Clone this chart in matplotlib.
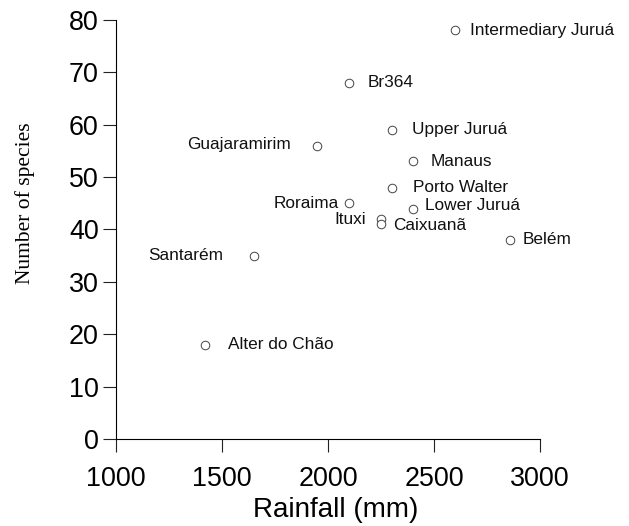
import matplotlib
matplotlib.use("Agg")
import matplotlib.pyplot as plt

# data
sites = ['Intermediary Juruá', 'Br364', 'Upper Juruá', 'Guajaramirim', 'Manaus',
         'Porto Walter', 'Roraima', 'Lower Juruá', 'Ituxi', 'Caixuanã',
         'Belém', 'Santarém', 'Alter do Chão']
rainfall = [2600, 2100, 2300, 1950, 2400, 2300, 2100, 2400, 2250, 2250, 2860, 1650, 1420]
species = [78, 68, 59, 56, 53, 48, 45, 44, 42, 41, 38, 35, 18]

# label offsets in pixels (dx, dy), negative dx = label on the left
offsets = {
    'Intermediary Juruá': (15, 0), 'Br364': (18, 0), 'Upper Juruá': (20, 0),
    'Guajaramirim': (-27, 1), 'Manaus': (18, 0), 'Porto Walter': (21, 0),
    'Roraima': (-10, 0), 'Lower Juruá': (12, 3), 'Ituxi': (-15, 0),
    'Caixuanã': (12, -1), 'Belém': (12, 0), 'Santarém': (-31, 0),
    'Alter do Chão': (23, 0),
}

plt.rcParams['font.family'] = ['Liberation Sans', 'DejaVu Sans']

fig = plt.figure(figsize=(6.29, 5.26), dpi=100)
ax = fig.add_axes([116/629, 1 - 439/526, (540 - 116)/629, (439 - 20)/526])

ax.scatter(rainfall, species, s=38, facecolors='white', edgecolors='#444444',
           linewidths=0.7, zorder=3)

px = 72 / 100
for name, x, y in zip(sites, rainfall, species):
    dx, dy = offsets[name]
    ha = 'left' if dx > 0 else 'right'
    ax.annotate(name, (x, y), xytext=(dx * px, dy * px), textcoords='offset points',
                ha=ha, va='center', fontsize=12.4, color='#111111')

ax.set_xlim(1000, 3000)
ax.set_ylim(0, 80)
ax.set_xticks([1000, 1500, 2000, 2500, 3000])
ax.set_yticks(range(0, 81, 10))
for s in ['top', 'right']:
    ax.spines[s].set_visible(False)
for s in ['left', 'bottom']:
    ax.spines[s].set_linewidth(0.8)
ax.tick_params(axis='both', direction='out', length=9.4, width=0.8,
               labelsize=19.4, color='#222222')
ax.tick_params(axis='x', pad=10)
ax.tick_params(axis='y', pad=3)

fig.text(336/629, 1 - 510/526, 'Rainfall (mm)', ha='center', va='center', fontsize=20)
fig.text(25/629, 1 - 203/526, 'Number of species', rotation=90, ha='center',
         va='center', fontsize=15.5, color='black',
         family=['Liberation Serif', 'DejaVu Serif'])

fig.savefig('out.png', dpi=100)
